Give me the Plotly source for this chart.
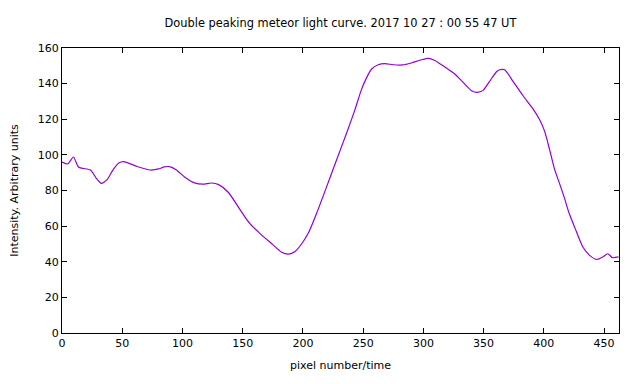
import plotly.graph_objects as go

pixel = [0, 4.8, 9.5, 13.9, 23.6, 28.3, 32.7, 37.5, 42.1, 47.1, 51.2, 62.3, 73.3, 80.2,
         85, 90, 95, 102, 110, 117, 124, 130, 138, 150, 156, 164, 175, 182, 188, 193.5,
         199, 204.5, 211.5, 219.8, 228, 236.3, 243.2, 248.5, 252.5, 257, 262.5, 268, 275,
         283, 290, 298.5, 304, 309.5, 317.8, 326, 333, 340, 344.6, 349.6, 355, 360.7,
         363.4, 367.5, 374.4, 382.7, 391, 396.5, 400.7, 404.8, 409, 413, 417, 421, 427,
         432.4, 438, 444, 449, 453, 457, 462]
intensity = [96.0, 94.9, 98.8, 93.0, 91.5, 87.0, 84.0, 86.1, 91.3, 95.4, 96.2, 93.5, 91.5, 92.1,
             93.3, 93.3, 91.5, 87.5, 84.3, 83.6, 84.2, 83.3, 79.0, 67.0, 61.4, 56.1, 49.6, 45.5, 44.3, 45.8,
             50.1, 56.1, 67.4, 82.3, 97.3, 112.3, 125.4, 136.5, 142.8, 148.2, 150.6, 151.2, 150.6,
             150.5, 151.6, 153.4, 154.2, 153.0, 149.3, 145.4, 140.7, 136.0, 135.1, 136.2, 141.3, 146.7,
             147.8, 147.8, 141.3, 133.2, 125.8, 119.7, 113.2, 102.9, 91.7, 84.0, 76.0, 67.2, 57.0,
             48.3, 43.6, 41.3, 42.7, 44.5, 42.3, 42.7]

x_ticks = [0, 50, 100, 150, 200, 250, 300, 350, 400, 450]
y_ticks = [0, 20, 40, 60, 80, 100, 120, 140, 160]

font = "DejaVu Sans"

fig = go.Figure()
fig.add_trace(go.Scatter(x=pixel, y=intensity, mode="lines", line_shape="spline",
                         line=dict(color="#9400d3", width=1.2, smoothing=0.6), showlegend=False))

fig.update_layout(
    width=640, height=384,
    margin=dict(l=61.5, r=20.5, t=48.3, b=50.7, autoexpand=False),
    paper_bgcolor="white", plot_bgcolor="white",
    font=dict(family=font, size=11, color="black"),
    title=dict(text="Double peaking meteor light curve. 2017 10 27 : 00 55 47 UT",
               x=0.532, xanchor="center", y=0.94, yanchor="middle",
               font=dict(family=font, size=11.4, color="black")),
)
fig.update_xaxes(range=[0, 462.4], tickvals=x_ticks, showgrid=False, zeroline=False,
                 automargin=False,
                 showline=True, linecolor="black", linewidth=1, mirror="ticks",
                 ticks="inside", ticklen=5, tickcolor="black",
                 title=dict(text="pixel number/time", standoff=12, font=dict(family=font, size=11)))
fig.update_yaxes(range=[0, 160], tickvals=y_ticks, showgrid=False, zeroline=False,
                 automargin=False,
                 showline=True, linecolor="black", linewidth=1, mirror="ticks",
                 ticks="inside", ticklen=5, tickcolor="black",
                 title=dict(text="Intensity. Arbitrary units", standoff=16, font=dict(family=font, size=11)))

fig.write_html("out.html", config={"displayModeBar": False},
               post_script="document.body.style.margin='0';")
